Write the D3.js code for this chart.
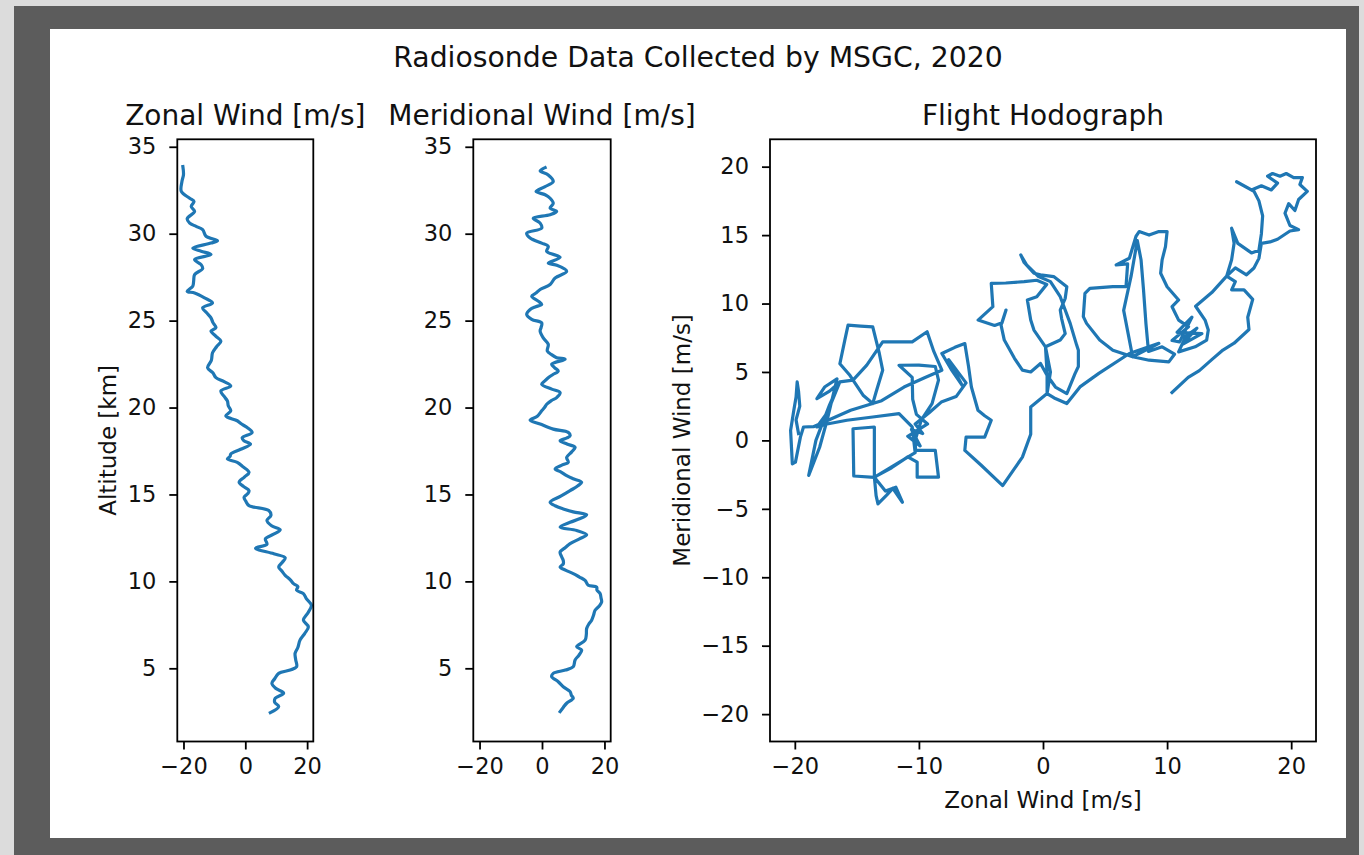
<!DOCTYPE html>
<html>
<head>
<meta charset="utf-8">
<script src="https://cdn.jsdelivr.net/npm/d3@7"></script>
<style>
  body { margin: 0; background: #dcdcdc; }
  svg { display: block; font-family: "DejaVu Sans", sans-serif; }
</style>
</head>
<body>
<svg id="chart"></svg>
<script>
// zonal wind profile: [altitude km, zonal wind m/s]
const zonalProfile = [
  [2.45,8.1],[2.8,10.8],[3.05,9.5],[3.28,9.7],[3.57,12.4],[3.85,9.8],[4.14,8.6],[4.4,9.5],[4.71,10.8],[4.9,14.5],
  [5.09,16.6],[5.5,16.3],[5.86,16.1],[6.2,17.0],[6.62,17.7],[7.0,19.2],[7.39,20.4],[7.77,18.8],[8.2,20.3],[8.63,21.4],
  [9.0,19.8],[9.3,18.8],[9.49,16.6],[9.7,17.0],[9.87,15.6],[10.1,14.5],[10.35,12.9],[10.6,11.8],[10.83,10.8],[11.1,12.0],
  [11.36,12.9],[11.59,9.2],[11.91,3.3],[12.13,7.0],[12.45,6.5],[12.7,9.0],[12.97,11.3],[13.2,8.5],[13.5,7.0],[13.8,8.3],
  [14.08,7.6],[14.36,1.2],[14.6,0.2],[14.84,-0.4],[15.05,0.8],[15.22,1.2],[15.45,-0.5],[15.7,-2.0],[16.0,-0.3],[16.27,1.2],
  [16.6,-0.8],[16.85,-2.6],[17.04,-5.8],[17.2,-4.9],[17.33,-4.7],[17.6,-1.5],[17.9,1.7],[18.1,-0.5],[18.26,-1.0],[18.57,2.2],
  [18.85,0.6],[19.05,-1.2],[19.24,-2.6],[19.52,-6.3],[19.81,-4.7],[20.1,-5.5],[20.38,-5.8],[20.65,-6.9],[20.95,-7.9],[21.24,-4.7],
  [21.5,-7.0],[21.72,-9.5],[22.0,-10.5],[22.29,-12.2],[22.7,-11.0],[23.15,-10.6],[23.5,-9.3],[23.82,-7.9],[24.1,-9.5],[24.4,-11.1],
  [24.59,-9.5],[24.9,-10.5],[25.16,-11.1],[25.45,-12.5],[25.73,-13.8],[26.02,-10.6],[26.31,-13.2],[26.59,-16.4],[26.69,-18.8],[26.98,-17.0],
  [27.3,-16.7],[27.65,-16.4],[27.99,-13.8],[28.22,-14.3],[28.51,-16.4],[28.8,-11.1],[28.99,-14.3],[29.17,-17.0],[29.46,-11.1],[29.6,-9.0],
  [29.85,-12.7],[30.23,-13.8],[30.42,-15.9],[30.61,-18.0],[30.86,-18.8],[31.28,-16.4],[31.57,-17.5],[31.85,-16.6],[32.04,-18.0],[32.43,-20.7],
  [33.0,-20.5],[33.4,-20.0],[33.86,-20.2]
];

// meridional wind profile: [altitude km, meridional wind m/s]
const meridionalProfile = [
  [2.51,5.8],[2.75,6.8],[2.99,7.9],[3.28,10.0],[3.45,9.4],[3.66,9.0],[3.94,6.8],[4.23,5.2],[4.52,3.1],[4.71,3.6],
  [4.9,7.5],[5.09,10.0],[5.48,10.6],[5.75,11.8],[6.05,12.7],[6.24,11.1],[6.62,13.8],[6.95,14.2],[7.29,14.3],[7.55,15.0],
  [7.77,15.9],[8.05,16.5],[8.34,17.0],[8.6,18.4],[8.82,19.1],[9.05,18.9],[9.3,18.6],[9.5,17.6],[9.68,17.5],[9.78,14.8],
  [10.06,13.8],[10.25,12.0],[10.45,10.0],[10.65,7.5],[10.83,5.8],[11.0,6.8],[11.21,6.8],[11.45,6.2],[11.69,5.8],[11.95,7.5],
  [12.17,9.0],[12.45,12.0],[12.68,14.3],[12.93,11.1],[13.12,5.8],[13.4,9.0],[13.6,12.0],[13.83,14.3],[14.0,10.0],[14.17,6.8],
  [14.35,4.2],[14.55,2.6],[14.9,6.0],[15.22,9.0],[15.5,11.5],[15.7,12.7],[15.9,10.0],[16.08,7.9],[16.3,6.0],[16.47,4.2],
  [16.7,6.5],[16.85,8.4],[17.13,7.9],[17.45,9.5],[17.71,10.6],[17.9,8.0],[18.09,5.8],[18.25,8.0],[18.38,9.0],[18.57,8.4],
  [18.76,3.6],[19.05,-0.6],[19.28,-3.8],[19.5,-1.5],[19.81,-0.1],[20.0,0.8],[20.19,1.5],[20.4,3.0],[20.57,4.7],[20.86,5.8],
  [21.06,3.1],[21.34,-0.1],[21.55,1.0],[21.72,2.0],[21.9,3.5],[22.1,5.2],[22.3,4.0],[22.49,3.1],[22.78,7.4],[22.87,4.7],
  [23.05,3.0],[23.25,1.7],[23.64,2.0],[24.01,0.4],[24.4,-0.6],[24.6,-0.3],[24.87,-0.1],[25.07,-3.3],[25.36,-4.9],[25.64,-3.8],
  [25.8,-2.0],[25.93,-0.1],[26.12,-1.2],[26.4,-3.3],[26.6,-1.8],[26.79,-0.6],[27.08,2.6],[27.45,4.2],[27.84,7.9],[28.2,4.5],
  [28.31,2.0],[28.64,5.8],[28.98,1.5],[29.27,2.0],[29.46,-0.1],[29.75,-3.8],[30.03,-4.9],[30.32,-0.1],[30.61,-0.6],[30.89,-2.8],
  [31.09,2.6],[31.28,4.7],[31.47,2.6],[31.75,3.6],[32.04,2.6],[32.24,1.0],[32.43,-1.9],[32.71,1.0],[33.0,3.6],[33.38,2.0],
  [33.61,-0.6],[33.8,1.0]
];

// hodograph path: [zonal m/s, meridional m/s]
const hodograph = [
  [10.4,3.5],[11.7,4.6],[12.6,5.1],[13.6,5.9],[14.5,6.6],[15.4,7.1],[16.6,8.1],[16.5,9.0],[16.9,10.3],[16.2,11.0],
  [15.2,11.0],[15.5,11.6],[14.8,12.0],[15.5,12.6],[16.4,12.1],[17.0,12.6],[17.4,13.3],[17.6,14.4],[18.3,14.5],[18.9,14.7],
  [19.9,15.3],[20.6,15.4],[19.9,15.7],[19.5,16.6],[19.8,17.3],[20.3,16.8],[20.6,17.6],[21.3,18.2],[20.7,18.7],[20.9,19.2],
  [20.2,19.2],[19.6,19.5],[19.1,19.3],[18.5,19.5],[18.1,19.3],[18.9,18.8],[18.4,18.3],[17.6,18.6],[16.8,18.3],[15.6,18.9],
  [17.0,18.2],[17.4,17.5],[17.7,16.4],[17.6,15.1],[17.4,13.9],[16.8,13.7],[15.7,14.4],[15.2,15.5],[15.4,14.4],[15.2,13.2],
  [14.8,12.0],[13.6,10.8],[12.3,9.8],
  [13.06,8.79],[13.32,8.06],[13.19,7.33],[12.26,6.84],[10.93,6.47],[11.5,7.6],[12.4,8.2],[11.2,7.0],[12.8,7.8],[10.8,7.9],
  [12.0,9.0],[11.0,7.2],[10.4,7.3],[11.73,8.3],[10.93,8.79],[10.4,9.77],[10.93,10.26],
  [10.0,11.23],[9.48,12.21],[9.6,13.19],[9.87,14.16],[10.0,15.26],[9.34,15.26],[8.55,15.0],[7.75,15.26],[7.49,14.9],[6.96,13.31],
  [5.9,12.82],[6.82,12.9],[6.69,11.23],[5.63,11.23],[3.78,11.11],[3.38,10.74],[3.25,9.04],[3.51,8.55],[4.57,7.33],[5.63,6.59],
  [7.22,6.11],[8.55,5.86],[10.14,5.74],[10.6,6.3],[9.6,6.84],[8.5,6.5],[8.3,8.5],[8.1,11.0],[7.9,13.2],[7.6,14.6],
  [7.1,12.0],[6.5,9.5],[7.22,6.11],[9.34,7.09],[6.96,6.35],[4.5,4.9],[2.98,3.91],[1.92,2.69],
  [0.9,3.1],[0.33,3.42],[0.33,4.9],[0.2,6.84],[1.39,7.33],[1.79,7.8],[1.5,8.9],[1.39,9.52],[1.79,10.38],[1.92,11.23],
  [0.86,11.97],[-0.2,12.1],[-0.73,12.21],[-1.52,13.0],[-1.79,13.55],[-1.3,12.8],[-0.4,12.0],[0.6,11.6],[1.39,10.5],[2.19,8.55],
  [2.7,7.0],[2.85,6.59],[2.85,5.4],[2.58,4.88],[1.92,3.42],[1.0,3.9],[0.3,4.8],[-0.2,5.62],[-0.99,5.0],[-1.66,5.13],
  [-2.3,6.0],[-3.12,7.33],[-3.38,8.42],[-2.98,9.52],[-3.3,8.6],[-3.9,8.4],[-5.23,8.79],[-4.04,9.77],[-4.17,11.48],[-3.0,11.5],
  [-1.52,11.6],[-0.5,11.7],[0.3,11.4],[-0.5,10.5],[-1.26,10.26],[-0.99,8.79],[-0.73,8.06],[0.2,6.84],[0.6,5.0],[0.33,3.42],
  [-0.99,2.44],[-0.99,0.45],[-1.66,-1.22],[-3.25,-3.3],[-5.0,-1.8],[-6.3,-0.73],
  [-6.2,0.24],[-4.7,0.24],[-4.17,1.47],[-4.7,1.8],[-5.24,2.2],[-5.77,3.9],[-6.0,5.4],[-6.3,7.08],[-7.1,6.8],[-8.15,6.35],
  [-7.4,5.2],[-6.5,4.0],[-7.6,5.9],[-6.2,4.2],[-7.0,3.2],[-8.2,2.8],[-9.2,2.0],[-10.3,1.2],[-9.7,0.5],[-10.6,0.8],
  [-9.9,-0.4],[-10.9,0.3],[-9.3,1.2],[-10.2,1.9],[-10.5,3.0],[-10.54,4.6],[-11.6,5.49],[-10.0,5.5],[-8.68,5.4],[-8.42,4.4],
  [-8.94,2.69],[-9.8,1.5],[-10.3,0.0],[-10.27,-0.73],[-8.68,-0.73],[-8.42,-2.69],[-10.14,-2.69],[-10.14,-1.59],[-10.9,-1.2],[-12.2,-2.0],
  [-13.59,-2.69],[-13.45,-4.03],[-13.3,-4.64],[-12.6,-4.0],[-12.1,-3.5],[-11.33,-4.52],[-11.86,-3.42],[-12.7,-3.7],[-13.59,-2.69],[-13.59,0.98],
  [-15.31,0.85],[-15.25,-2.6],[-13.6,-2.7],[-10.3,-0.9],[-10.54,0.98],[-11.6,1.96],[-13.72,1.71],[-15.8,1.47],[-17.4,1.2],[-18.22,0.98],
  [-17.4,2.0],[-16.37,4.27],[-17.2,3.6],[-18.22,3.05],[-17.6,3.9],[-16.6,4.5],[-17.4,1.47],[-18.0,-0.5],[-18.88,-2.56],[-18.3,0.0],
  [-17.2,2.6],[-16.37,4.27],[-15.31,4.4],[-14.5,3.3],[-13.72,2.69],[-13.45,3.54],[-12.92,5.13],[-13.19,6.35],[-13.72,8.3],[-14.7,8.35],
  [-15.71,8.42],[-15.97,7.33],[-16.37,5.6],[-15.6,4.8],[-15.31,4.4],[-14.2,5.5],[-12.92,7.2],[-11.6,7.2],[-10.54,7.2],[-9.34,7.94],
  [-8.8,6.5],[-8.15,5.13],[-9.5,4.6],[-11.2,3.9],[-13.0,2.9],[-15.5,2.2],[-17.5,1.4],[-18.5,1.0],[-19.3,0.98],[-19.55,0.24],
  [-19.95,-1.59],[-20.2,-1.71],[-20.34,0.73],[-20.08,2.2],[-19.9,3.17],[-19.81,4.27],[-19.7,3.6],[-19.6,2.5],[-19.9,1.5],[-19.7,0.5]
];

const windDomain = [-22, 22];
const altDomain = [0.79, 35.43];
const profileXTicks = [-20, 0, 20];
const altTicks = [5, 10, 15, 20, 25, 30, 35];
const hodoXTicks = [-20, -10, 0, 10, 20];
const hodoYTicks = [-20, -15, -10, -5, 0, 5, 10, 15, 20];

const suptitle = 'Radiosonde Data Collected by MSGC, 2020';
const lineColor = '#1f77b4';

const W = 1364, H = 855;
const svg = d3.select('#chart').attr('width', W).attr('height', H);

// window frame + figure background
svg.append('rect').attr('x', 14).attr('y', 6).attr('width', 1345).attr('height', H - 6).attr('fill', '#5c5c5c');
svg.append('rect').attr('x', 50).attr('y', 29).attr('width', 1296).attr('height', 809).attr('fill', '#fff');

svg.append('text')
  .attr('x', 698).attr('y', 66.5)
  .attr('text-anchor', 'middle')
  .attr('fill', '#111')
  .style('font-size', '28.3px')
  .text(suptitle);

const axTop = 139.3, axBottom = 741.5;
const fmt = d3.format('d');

function drawPanel(opts) {
  const x = d3.scaleLinear().domain(opts.xDomain).range([opts.left, opts.right]);
  const y = d3.scaleLinear().domain(opts.yDomain).range([axBottom, axTop]);
  const g = svg.append('g');

  g.append('defs').append('clipPath').attr('id', opts.id)
    .append('rect').attr('x', opts.left).attr('y', axTop)
    .attr('width', opts.right - opts.left).attr('height', axBottom - axTop);

  const line = d3.line().x(d => x(d[0])).y(d => y(d[1])).curve(opts.curve || d3.curveLinear);
  g.append('path')
    .datum(opts.points)
    .attr('clip-path', `url(#${opts.id})`)
    .attr('fill', 'none')
    .attr('stroke', lineColor)
    .attr('stroke-width', 3.2)
    .attr('stroke-linejoin', 'round')
    .attr('stroke-linecap', 'square')
    .attr('d', line);

  const xAxis = g.append('g')
    .attr('transform', `translate(0,${axBottom})`)
    .call(d3.axisBottom(x).tickValues(opts.xTicks).tickFormat(fmt).tickSize(8).tickPadding(8.5));
  const yAxis = g.append('g')
    .attr('transform', `translate(${opts.left},0)`)
    .call(d3.axisLeft(y).tickValues(opts.yTicks).tickFormat(fmt).tickSize(8).tickPadding(13));

  [xAxis, yAxis].forEach(a => {
    a.select('.domain').remove();
    a.selectAll('line').attr('stroke', '#000').attr('stroke-width', 1.8);
    a.selectAll('text').attr('fill', '#111').style('font-size', '22.5px').style('font-family', '"DejaVu Sans", sans-serif');
  });

  g.append('rect')
    .attr('x', opts.left).attr('y', axTop)
    .attr('width', opts.right - opts.left).attr('height', axBottom - axTop)
    .attr('fill', 'none').attr('stroke', '#000').attr('stroke-width', 1.8);

  g.append('text')
    .attr('x', (opts.left + opts.right) / 2).attr('y', 125)
    .attr('text-anchor', 'middle')
    .attr('fill', '#111')
    .style('font-size', '28px')
    .text(opts.title);

  if (opts.xLabel) {
    g.append('text')
      .attr('x', (opts.left + opts.right) / 2).attr('y', 807.5)
      .attr('text-anchor', 'middle')
      .attr('fill', '#111')
      .style('font-size', '23px')
      .text(opts.xLabel);
  }
  if (opts.yLabel) {
    g.append('text')
      .attr('transform', `translate(${opts.yLabelX},${(axTop + axBottom) / 2}) rotate(-90)`)
      .attr('text-anchor', 'middle')
      .attr('fill', '#111')
      .style('font-size', '23px')
      .text(opts.yLabel);
  }
}

drawPanel({
  id: 'clipZonal', left: 177.3, right: 313.3,
  xDomain: windDomain, yDomain: altDomain,
  xTicks: profileXTicks, yTicks: altTicks,
  points: zonalProfile.map(d => [d[1], d[0]]),
  curve: d3.curveCatmullRom.alpha(0.5),
  title: 'Zonal Wind [m/s]', yLabel: 'Altitude [km]', yLabelX: 115.5
});

drawPanel({
  id: 'clipMerid', left: 473.3, right: 610.7,
  xDomain: windDomain, yDomain: altDomain,
  xTicks: profileXTicks, yTicks: altTicks,
  points: meridionalProfile.map(d => [d[1], d[0]]),
  curve: d3.curveCatmullRom.alpha(0.5),
  title: 'Meridional Wind [m/s]'
});

drawPanel({
  id: 'clipHodo', left: 770, right: 1316,
  xDomain: windDomain, yDomain: windDomain,
  xTicks: hodoXTicks, yTicks: hodoYTicks,
  points: hodograph,
  title: 'Flight Hodograph', xLabel: 'Zonal Wind [m/s]',
  yLabel: 'Meridional Wind [m/s]', yLabelX: 690
});
</script>
</body>
</html>
